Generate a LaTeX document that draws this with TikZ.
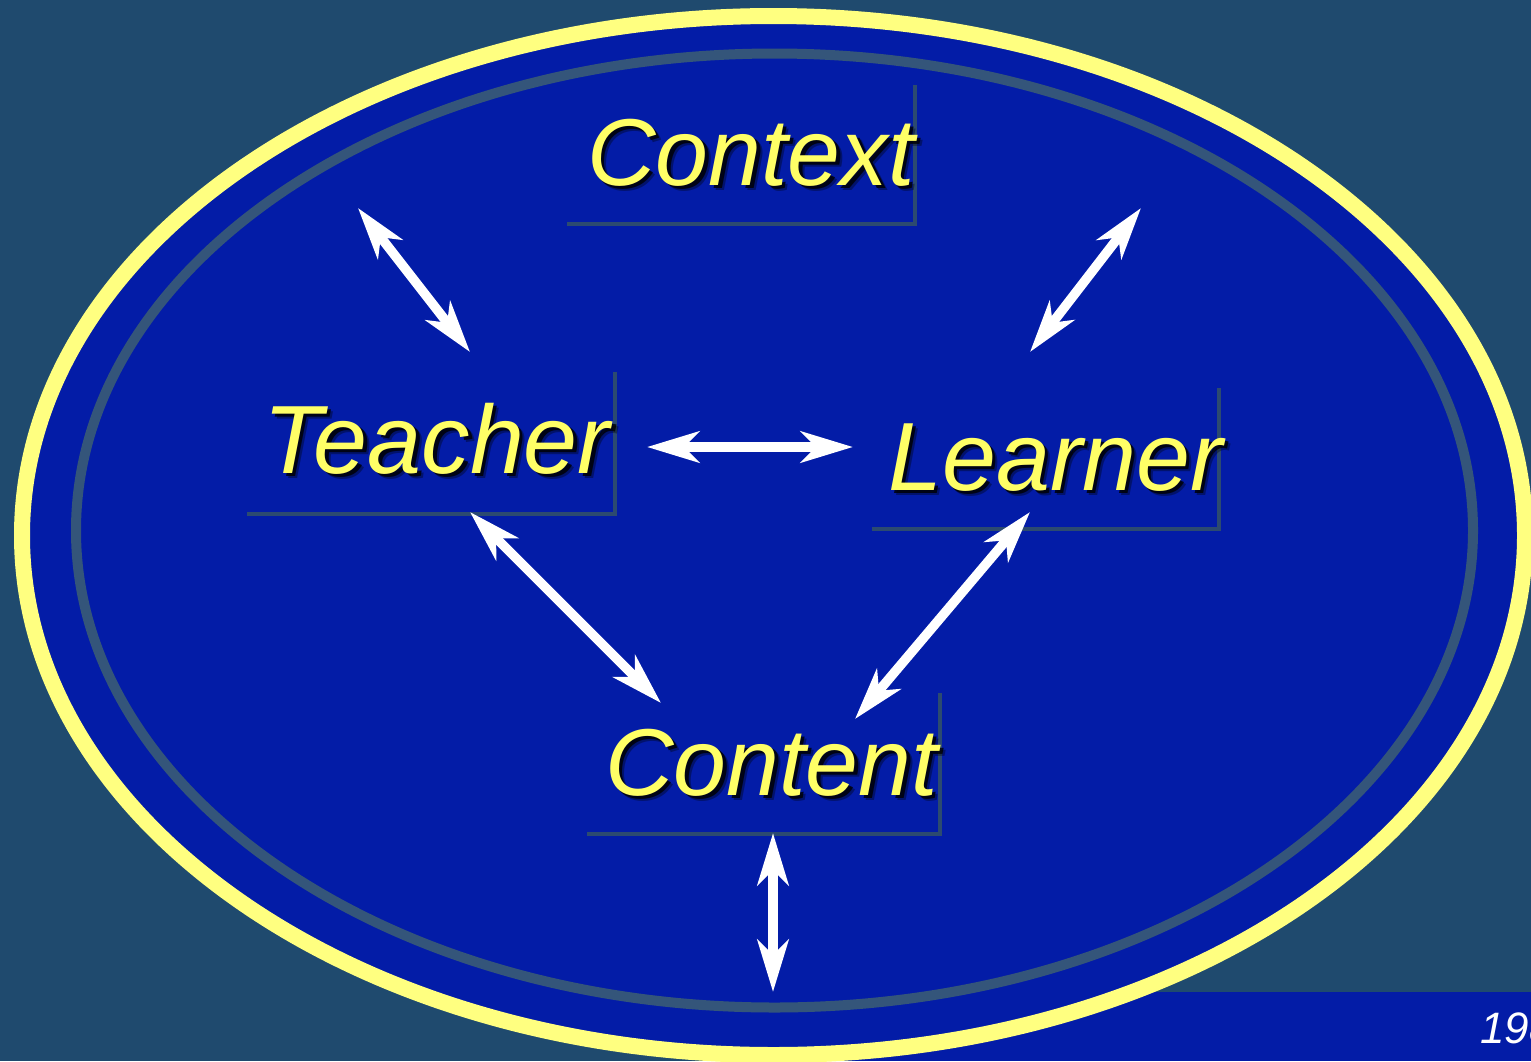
\documentclass[tikz,border=0pt]{standalone}
\usepackage{fontspec}
\setmainfont{Liberation Sans}
\usetikzlibrary{arrows.meta}
\definecolor{bgc}{RGB}{31,74,110}
\definecolor{ellc}{RGB}{3,28,167}
\definecolor{ylw}{RGB}{255,255,128}
\definecolor{ringc}{RGB}{52,85,122}
\definecolor{boxc}{RGB}{44,74,112}
\definecolor{txt}{RGB}{255,255,102}
\begin{document}
\begin{tikzpicture}[x=1pt,y=-1pt,
  lbl/.style={font=\fontsize{#1}{100}\selectfont\itshape, text=txt, inner sep=0pt, anchor=base west},
  lbl/.default=95,
  lblshadow/.style={lbl=#1, text=black, opacity=0.8},
  lblshadow/.default=95,
  lblblur/.style={lbl=#1, text=black, opacity=0.35},
  lblblur/.default=95,
  boxline/.style={draw=boxc, line width=4pt},
  dblarrow/.style={draw=white, line width=9.5pt, {Stealth[length=52pt,width=31pt,inset=15pt]}-{Stealth[length=52pt,width=31pt,inset=15pt]}}]
\useasboundingbox (0,0) rectangle (1531,1061);
\clip (0,0) rectangle (1531,1061);
\fill[bgc] (0,0) rectangle (1531,1061);
\fill[ellc] (775,992) rectangle (1531,1061);
\draw[ylw, line width=16pt, fill=ellc] (773.5,535.5) ellipse [x radius=751.5, y radius=519.5];
\draw[ringc, line width=10pt] (774.5,530.5) ellipse [x radius=698.5, y radius=477];
% box lines
\draw[boxline] (567,224) -- (914.5,224) -- (914.5,85);
\draw[boxline] (247,514) -- (614.7,514) -- (614.7,372);
\draw[boxline] (872,529) -- (1218.5,529) -- (1218.5,388);
\draw[boxline] (587,834) -- (940,834) -- (940,693);
% labels
\node[lblblur] (contextbl) at (592.5,190.5) {Context};
\node[lblshadow] (contextsh) at (590.5,188.5) {Context};
\node[lbl] (context) at (587,185) {Context};
\node[lblblur=97] (teacherbl) at (268.5,478.5) {Teacher};
\node[lblshadow=97] (teachersh) at (266.5,476.5) {Teacher};
\node[lbl=97] (teacher) at (263,473) {Teacher};
\node[lblblur=97] (learnerbl) at (893.5,495.5) {Learner};
\node[lblshadow=97] (learnersh) at (891.5,493.5) {Learner};
\node[lbl=97] (learner) at (888,490) {Learner};
\node[lblblur] (contentbl) at (610.5,800.5) {Content};
\node[lblshadow] (contentsh) at (608.5,798.5) {Content};
\node[lbl] (content) at (605,795) {Content};
\node[font=\fontsize{44}{48}\selectfont\itshape, text=white, inner sep=0pt, anchor=base west] (year) at (1480,1043) {198};
% arrows
\coordinate (tl1) at (358,208); \coordinate (tl2) at (470,352);
\coordinate (tr1) at (1141,208); \coordinate (tr2) at (1030,352);
\coordinate (h1) at (647,447); \coordinate (h2) at (853,447);
\coordinate (tc1) at (470,512); \coordinate (tc2) at (661,703);
\coordinate (lc1) at (1030,512); \coordinate (lc2) at (855,719);
\coordinate (v1) at (773,833); \coordinate (v2) at (773,992);
\draw[dblarrow] (tl1) -- (tl2);
\draw[dblarrow] (tr1) -- (tr2);
\draw[dblarrow] (h1) -- (h2);
\draw[dblarrow] (tc1) -- (tc2);
\draw[dblarrow] (lc1) -- (lc2);
\draw[dblarrow] (v1) -- (v2);
\end{tikzpicture}
\end{document}
